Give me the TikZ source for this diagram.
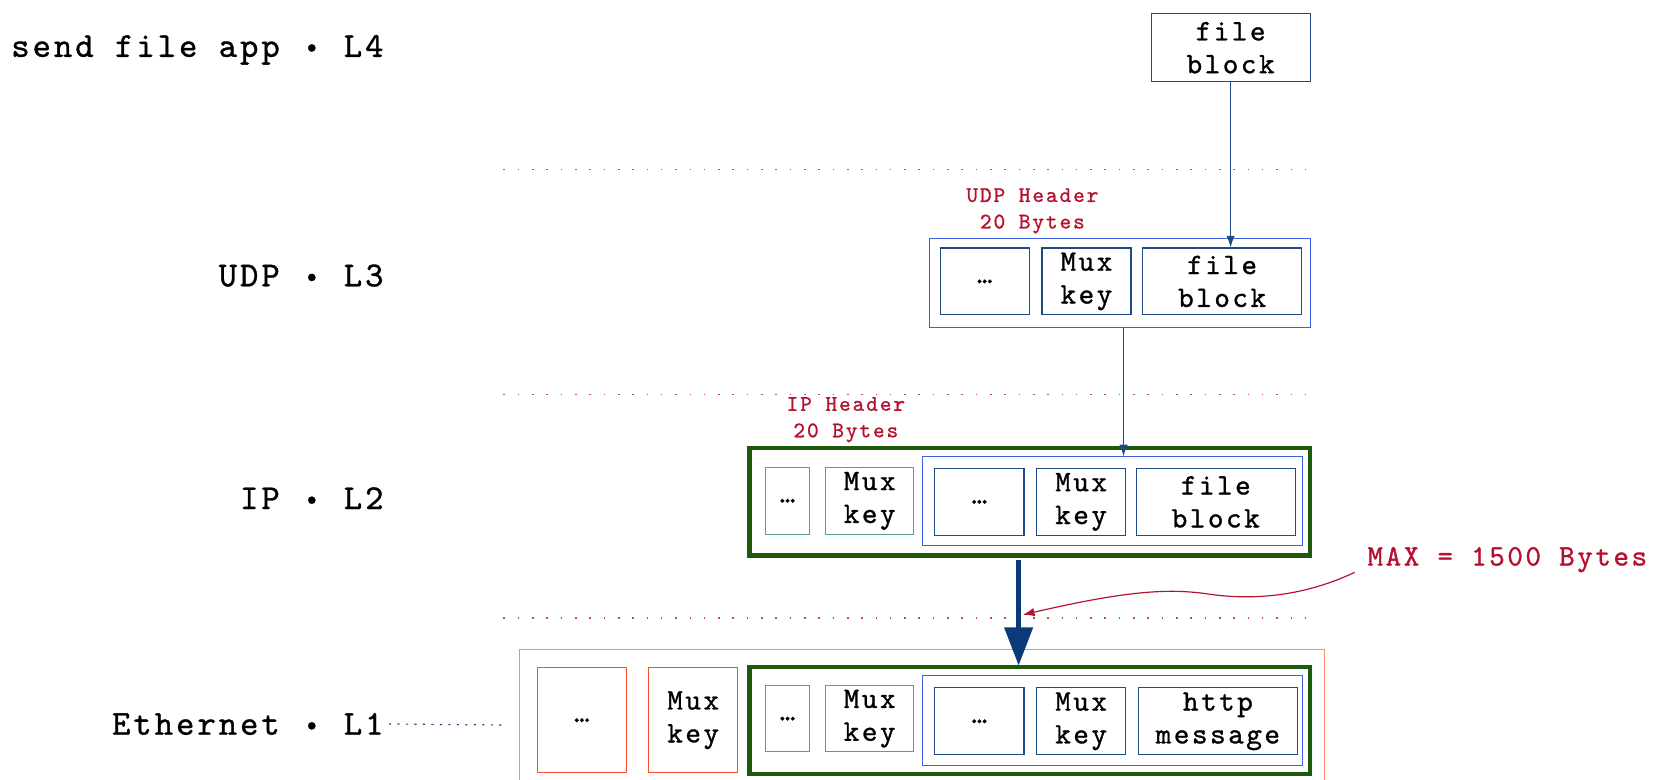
\documentclass[tikz,border=0pt]{standalone}
\usepackage{fontspec}
\newfontfamily\cour{lmmono10-regular.otf}[LetterSpace=8.5, FakeBold=1]
\usetikzlibrary{arrows.meta}

\definecolor{navy}{HTML}{1F4A86}
\definecolor{udpblue}{HTML}{3D5FE6}
\definecolor{dkgreen}{HTML}{1F5A0C}
\definecolor{tealbox}{HTML}{5C9A98}
\definecolor{hdrred}{HTML}{B5102E}
\definecolor{dotred}{HTML}{D0405A}
\definecolor{ethorange}{HTML}{FF8A78}
\definecolor{ethred}{HTML}{FF4A2A}
\definecolor{thicknavy}{HTML}{0B3A78}

% separator dot between layer name and level
\newcommand{\lsep}{\makebox[0.61em]{\raisebox{2.5pt}{\fontsize{25}{25}\selectfont •}}}

\tikzset{
  layerlbl/.style={anchor=east, inner sep=0pt, font=\cour\fontsize{33}{36}\selectfont},
  cell/.style={draw=navy, line width=1.1pt, align=center, inner sep=0pt,
               font=\cour\fontsize{28}{31}\selectfont, minimum height=63pt},
  tealcell/.style={cell, draw=tealbox},
  ethcell/.style={cell, draw=ethred, minimum height=99pt},
  udpframe/.style={draw=udpblue, line width=0.9pt, inner sep=0pt, minimum height=84pt},
  ipframe/.style={draw=dkgreen, line width=4pt, inner sep=0pt, minimum width=529pt, minimum height=101pt},
  ethframe/.style={draw=ethorange, line width=1pt, inner sep=0pt},
  hdrlbl/.style={text=hdrred, align=center, inner sep=0pt, font=\cour\fontsize{21}{25}\selectfont},
  sepline/.style={dotred, line width=1.3pt, dash pattern=on 1.5pt off 12pt},
  linkdots/.style={navy, line width=1.1pt, dash pattern=on 2pt off 6pt},
  thinarrow/.style={navy, line width=1.1pt, -{Latex[length=11pt,width=8pt]}},
  thickarrow/.style={thicknavy, line width=5pt, -{Triangle[length=36pt,width=26pt]}},
  notearrow/.style={hdrred, line width=1.1pt, -{Latex[length=11pt,width=8pt]}},
}

\begin{document}
\begin{tikzpicture}[x=1pt, y=-1pt]
\useasboundingbox (0,0) rectangle (1568,735);
\clip (0,0) rectangle (1568,735);

% layer names
\node[layerlbl] (l4) at (362,47) {send file app \lsep{} L4};
\node[layerlbl] (l3) at (362,260) {UDP \lsep{} L3};
\node[layerlbl] (l2) at (362,470) {IP \lsep{} L2};
\node[layerlbl] (l1) at (362,683) {Ethernet \lsep{} L1};
\coordinate (l1end) at (476,684);
\draw[linkdots, shorten <=5pt] (l1.east) -- (l1end);

% layer separators
\draw[sepline] (475,160) -- (1238,160);
\draw[sepline] (475,372) -- (1238,372);
\draw[sepline] (475,583) -- (1238,583);

% L4: application payload
\node[cell, minimum width=150pt, minimum height=64pt] (app) at (1161,45) {file\\block};

% L3: UDP datagram
\node[hdrlbl] (udphdr) at (974,199) {UDP Header\\20 Bytes};
\node[udpframe, minimum width=359pt] (udp) at (1056.5,267) {};
\node[cell, minimum width=84pt] (u1) at (929,265.5) {…};
\node[cell, minimum width=84pt] (u2) at (1025,265.5) {Mux\\key};
\node[cell, minimum width=150pt] (u3) at (1153,265.5) {file\\block};

% L2: IP packet
\node[hdrlbl] (iphdr) at (798,396) {IP Header\\20 Bytes};
\node[ipframe] (ip) at (971.5,473.5) {};
\node[tealcell, minimum width=42pt] (t1) at (743,472.5) {…};
\node[tealcell, minimum width=83pt] (t2) at (820.5,472.5) {Mux\\key};
\node[udpframe, minimum width=359pt] (ipudp) at (1049.5,473) {};
\node[cell, minimum width=84pt] (i1) at (924,473.5) {…};
\node[cell, minimum width=84pt] (i2) at (1020,473.5) {Mux\\key};
\node[cell, minimum width=150pt] (i3) at (1147,473.5) {file\\block};

% L1: Ethernet frame
\node[ethframe, minimum width=760pt, minimum height=132pt] (eth) at (870,679) {};
\node[ethcell, minimum width=84pt] (e1) at (549,679.5) {…};
\node[ethcell, minimum width=84pt] (e2) at (654,679.5) {Mux\\key};
\node[ipframe] (ethip) at (971.5,679.5) {};
\node[tealcell, minimum width=42pt, minimum height=62pt] (t3) at (743,678) {…};
\node[tealcell, minimum width=83pt, minimum height=62pt] (t4) at (820.5,678) {Mux\\key};
\node[udpframe, minimum width=359pt, minimum height=85pt] (ethudp) at (1049.5,679.5) {};
\node[cell, minimum width=84pt] (j1) at (924,680.5) {…};
\node[cell, minimum width=84pt] (j2) at (1020,680.5) {Mux\\key};
\node[cell, minimum width=150pt] (j3) at (1149,680.5) {http\\message};

% encapsulation arrows
\draw[thinarrow] (app.south) -- (app.south |- u3.north);
\draw[thinarrow] ([xshift=3.5pt]udp.south) -- ([xshift=10.5pt]ipudp.north);
\draw[thickarrow] ([xshift=-10.5pt,yshift=-2pt]ip.south) -- ([xshift=-10.5pt,yshift=-1pt]ethip.north);

% size limit note
\node[text=hdrred, anchor=west, inner sep=0pt, font=\cour\fontsize{28}{31}\selectfont] (max) at (1290,528) {MAX = 1500 Bytes};
\coordinate (maxtip) at (965,580);
\draw[notearrow] ([xshift=-12pt,yshift=-12pt]max.west) .. controls (1225,565) and (1175,566) .. (1137,560)
  .. controls (1100,555) and (1060,558) .. (maxtip);
\end{tikzpicture}
\end{document}
